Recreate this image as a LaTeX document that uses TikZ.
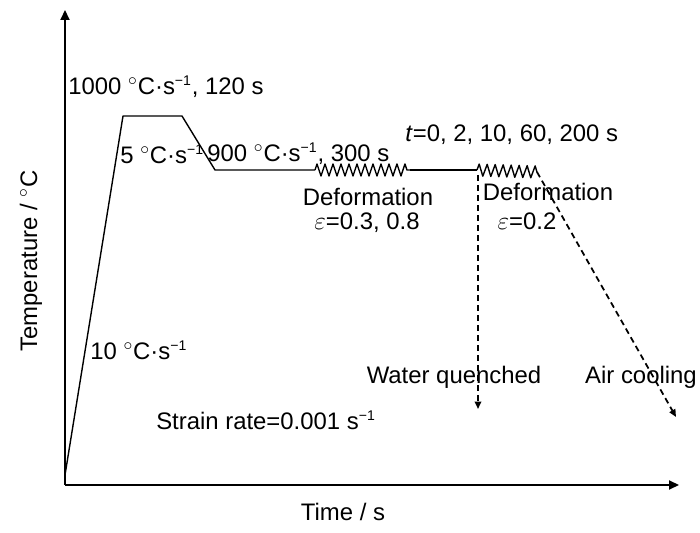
\documentclass[tikz,border=0pt]{standalone}
\usepackage{fontspec}
\setmainfont{Liberation Sans}
\usetikzlibrary{decorations.pathmorphing,arrows.meta}
\newcommand{\degc}{\textsuperscript{$\circ$}C}
\newcommand{\pers}{s\textsuperscript{\fontsize{8}{8}\selectfont\char"2212 1}}
\begin{document}
\begin{tikzpicture}[x=0.02cm, y=-0.02cm,
  every node/.style={font=\fontsize{13.6}{16}\selectfont, inner sep=0pt},
  axis/.style={line width=0.4mm, -{Triangle[length=2mm, width=1.8mm]}},
  curve/.style={line width=0.28mm, line join=round},
  zig/.style={decorate, decoration={zigzag, segment length=1.6mm, amplitude=1.2mm}},
  cool/.style={line width=0.35mm, dash pattern=on 1.2mm off 0.8mm, -{Triangle[length=1.5mm, width=1.3mm]}}]

  \useasboundingbox (0,0) rectangle (700,533);

  \coordinate (origin) at (65,485);
  \coordinate (ytop) at (65,10);
  \coordinate (xend) at (679,485);
  \draw[axis] (origin) -- (ytop);
  \draw[axis] (origin) -- (xend);

  \coordinate (start) at (65,475);
  \coordinate (heatend) at (123,116);
  \coordinate (holdend) at (182,116);
  \coordinate (coolend) at (215,170);
  \coordinate (defonea) at (315,170);
  \coordinate (defoneb) at (410,170);
  \coordinate (deftwoa) at (477,170);
  \coordinate (deftwob) at (537,172);
  \draw[curve] (start) -- (heatend) -- (holdend) -- (coolend) -- (defonea);
  \draw[curve, zig] (defonea) -- (defoneb);
  \draw[curve] (defoneb) -- (deftwoa);
  \draw[curve, zig] (deftwoa) -- (deftwob);

  \coordinate (quenchtop) at (478,175);
  \coordinate (quenchend) at (478,409);
  \coordinate (airend) at (676,417);
  \draw[cool] (quenchtop) -- (quenchend);
  \draw[cool] (deftwob) -- (airend);

  \node[anchor=west] (hold) at (68,87) {1000 \degc·\pers, 120 s};
  \node[anchor=west] (coolrate) at (120,154) {5 \degc·\pers};
  \node[anchor=west] (deftemp) at (207,154) {900 \degc·\pers, 300 s};
  \node[anchor=west] (times) at (405,135) {\textit{t}=0, 2, 10, 60, 200 s};
  \node (defone) at (368,197) {Deformation};
  \node (strainone) at (367,223) {$\varepsilon$=0.3, 0.8};
  \node (deftwo) at (548,192) {Deformation};
  \node (straintwo) at (527,221) {$\varepsilon$=0.2};
  \node[anchor=west] (heatrate) at (90,350) {10 \degc·\pers};
  \node[rotate=90] (ylabel) at (31,261) {Temperature / \degc};
  \node (water) at (454,377) {Water quenched};
  \node (air) at (641,377) {Air cooling};
  \node (rate) at (266,420) {Strain rate=0.001 \pers};
  \node (xlabel) at (343,512) {Time / s};

\end{tikzpicture}
\end{document}
